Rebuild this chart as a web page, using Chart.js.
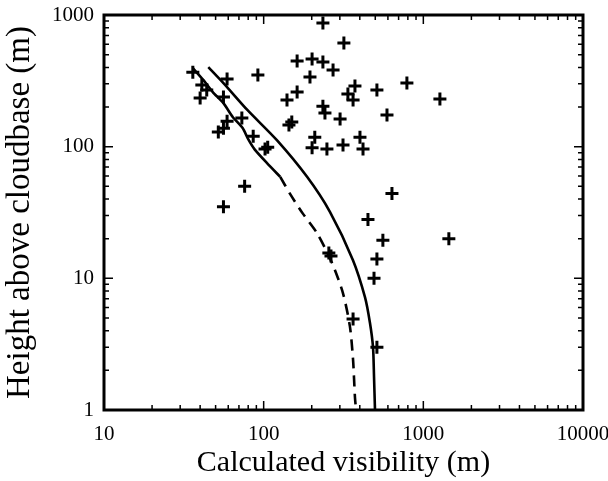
<!DOCTYPE html>
<html>
<head>
<meta charset="utf-8">
<script src="https://cdn.jsdelivr.net/npm/chart.js@4"></script>
<style>
  html, body { margin: 0; padding: 0; background: #fff; }
  #wrap { width: 608px; height: 481px; }
</style>
</head>
<body>
<div id="wrap"><canvas id="visChart" width="608" height="481"></canvas></div>
<script>
// observed points: calculated visibility (m) vs height above cloudbase (m)
const obsVis = [36, 41, 44, 40, 59, 56, 92, 162, 201, 235, 272, 235, 318, 195, 140, 162, 235, 242, 301,
  373, 337, 363, 512, 789, 1270, 592, 73, 59, 56, 52, 86, 106, 102, 150, 144, 209, 201, 249, 314, 401, 419,
  76, 56, 636, 450, 558, 512, 491, 1445, 256, 264, 363, 512];
const obsHeight = [368, 294, 269, 234, 326, 238, 350, 447, 463, 439, 382, 868, 612, 338, 226, 260, 203, 180, 162,
  289, 251, 226, 269, 304, 230, 174, 165, 156, 138, 129, 120, 99, 96, 154, 146, 118, 98, 96, 103, 118, 96,
  50, 35, 44, 28, 19.5, 14, 10, 20, 15.6, 14.8, 4.9, 3];

// upper solid curve
const upperVis = [45, 56, 79, 121, 187, 260, 362, 431, 463, 484, 491, 498];
const upperHeight = [402, 304, 190, 112, 59, 32, 13.8, 7.2, 4.6, 3.0, 1.8, 1];

// lower curve, solid part then dashed part
const lowerVis = [36, 42, 48, 56, 64, 74, 80, 88, 105, 127];
const lowerHeight = [395, 320, 260, 214, 168, 138, 114, 95, 75, 59];
const dashVis = [127, 146, 176, 216, 268, 314, 347, 363, 373, 379];
const dashHeight = [59, 44, 31, 22, 13.1, 7.7, 4.3, 2.4, 1.25, 1];

const xTicks = [10, 100, 1000, 10000];
const yTicks = [1, 10, 100, 1000];

const serif = '"Liberation Serif", "DejaVu Serif", serif';
const toXY = (xs, ys) => xs.map((v, i) => ({ x: v, y: ys[i] }));

// frame + inward log ticks on all four sides
const framePlugin = {
  id: 'frame',
  afterDraw(chart) {
    const { ctx, chartArea: a, scales } = chart;
    ctx.save();
    ctx.strokeStyle = '#000';
    ctx.lineWidth = 1.5;
    const minors = [];
    for (let d = 1; d <= 1000; d *= 10) for (let m = 1; m < 10; m++) minors.push(d * m);
    minors.push(10000);
    ctx.beginPath();
    minors.forEach(v => {
      const major = Math.log10(v) % 1 === 0;
      const len = major ? 9 : 5;
      if (v >= 10 && v <= 10000) {
        const px = scales.x.getPixelForValue(v);
        ctx.moveTo(px, a.bottom); ctx.lineTo(px, a.bottom - len);
        ctx.moveTo(px, a.top); ctx.lineTo(px, a.top + len);
      }
      if (v >= 1 && v <= 1000) {
        const py = scales.y.getPixelForValue(v);
        ctx.moveTo(a.left, py); ctx.lineTo(a.left + len, py);
        ctx.moveTo(a.right, py); ctx.lineTo(a.right - len, py);
      }
    });
    ctx.stroke();
    ctx.lineWidth = 3;
    ctx.strokeRect(a.left, a.top, a.right - a.left, a.bottom - a.top);
    ctx.restore();
  }
};

new Chart(document.getElementById('visChart'), {
  type: 'scatter',
  data: {
    datasets: [
      { data: toXY(upperVis, upperHeight), showLine: true, borderColor: '#000', borderWidth: 2.6, pointRadius: 0, tension: 0.25 },
      { data: toXY(lowerVis, lowerHeight), showLine: true, borderColor: '#000', borderWidth: 2.6, pointRadius: 0, tension: 0.2 },
      { data: toXY(dashVis, dashHeight), showLine: true, borderColor: '#000', borderWidth: 2.6, borderDash: [11, 7], pointRadius: 0, tension: 0.25 },
      { data: toXY(obsVis, obsHeight), pointStyle: 'cross', pointRadius: 6.5, borderColor: '#000', borderWidth: 3 }
    ]
  },
  options: {
    responsive: false,
    animation: false,
    layout: { padding: { top: 15, right: 25, left: 0, bottom: 0 } },
    plugins: { legend: { display: false }, tooltip: { enabled: false } },
    scales: {
      x: {
        type: 'logarithmic', min: 10, max: 10000,
        afterBuildTicks: s => { s.ticks = xTicks.map(v => ({ value: v })); },
        afterFit: s => { s.height = 71; s.paddingLeft = 0; s.paddingRight = 0; },
        grid: { display: false, drawTicks: false },
        border: { display: false },
        ticks: { color: '#000', font: { family: serif, size: 21 }, padding: 12, maxRotation: 0, autoSkip: false, callback: v => String(v) },
        title: { display: true, text: 'Calculated visibility (m)', color: '#000', font: { family: serif, size: 30 }, padding: { top: 0, bottom: 0 } }
      },
      y: {
        type: 'logarithmic', min: 1, max: 1000,
        afterBuildTicks: s => { s.ticks = yTicks.map(v => ({ value: v })); },
        afterFit: s => { s.width = 104; s.paddingTop = 0; s.paddingBottom = 0; },
        grid: { display: false, drawTicks: false },
        border: { display: false },
        ticks: { color: '#000', font: { family: serif, size: 21 }, padding: 10, autoSkip: false, callback: v => String(v) },
        title: { display: true, text: 'Height above cloudbase (m)', color: '#000', font: { family: serif, size: 33 }, padding: { top: 1, bottom: 0 } }
      }
    }
  },
  plugins: [framePlugin]
});
</script>
</body>
</html>
